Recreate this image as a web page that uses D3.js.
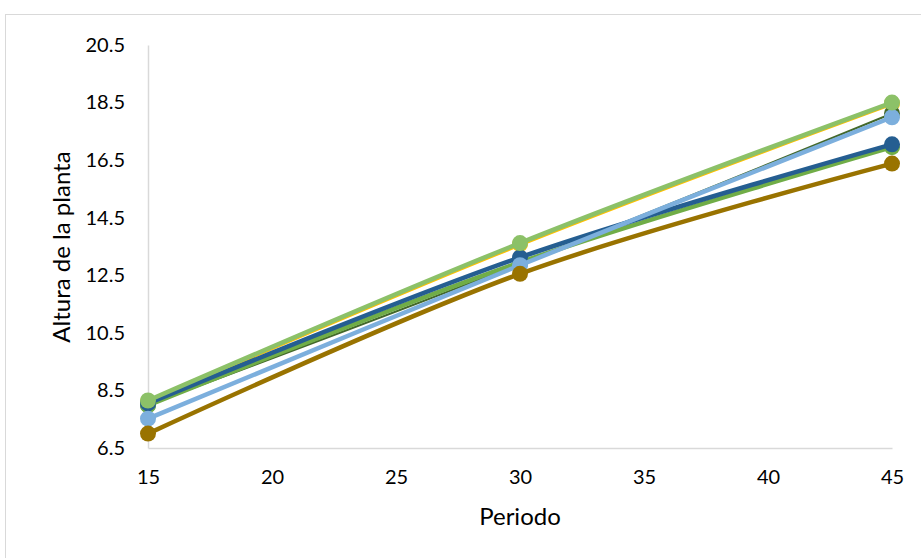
<!DOCTYPE html>
<html><head><meta charset="utf-8">
<script src="https://cdn.jsdelivr.net/npm/d3@7"></script>
<style>body{margin:0;background:#fff;}svg{display:block;font-family:Lato,"Open Sans",sans-serif;}</style>
</head><body><svg id="c" width="921" height="558"></svg>
<script>
const periods = [15, 30, 45];
const xTicks = [15, 20, 25, 30, 35, 40, 45];
const yTicks = [6.5, 8.5, 10.5, 12.5, 14.5, 16.5, 18.5, 20.5];
const seriesNames = ["S1", "S2", "S3", "S4", "S5", "S6", "S7"];
const seriesColors = ["#FFC000", "#43682B", "#70AD47", "#255E91", "#7CAFDD", "#997300", "#8CC168"];
const s1 = [8.12, 13.58, 18.47];
const s2 = [8.0, 12.9, 18.12];
const s3 = [7.98, 12.95, 16.95];
const s4 = [8.05, 13.12, 17.05];
const s5 = [7.52, 12.85, 17.99];
const s6 = [7.0, 12.55, 16.38];
const s7 = [8.15, 13.62, 18.5];
const seriesValues = [s1, s2, s3, s4, s5, s6, s7];
const seriesWidths = [4.5, 2, 4.5, 4.5, 4.5, 4.5, 4.5];

const svg = d3.select("#c");
// chart area border
svg.append("rect").attr("x", 5.5).attr("y", 14.5).attr("width", 940).attr("height", 560)
  .attr("fill", "#fff").attr("stroke", "#D9D9D9").attr("stroke-width", 1);

const x = d3.scaleLinear().domain([15, 45]).range([148, 892]);
const y = d3.scaleLinear().domain([6.5, 20.5]).range([448, 45]);

const gx = svg.append("g").attr("transform", "translate(0,448)")
  .call(d3.axisBottom(x).tickValues(xTicks).tickSize(0).tickPadding(22).tickFormat(d3.format("d")));
const gy = svg.append("g").attr("transform", "translate(148,0)")
  .call(d3.axisLeft(y).tickValues(yTicks).tickSize(0).tickPadding(23).tickFormat(d3.format(".1f")));
[gx, gy].forEach(g => {
  g.select(".domain").attr("stroke", "#D9D9D9").attr("stroke-width", 1.5);
  g.selectAll("text").attr("font-size", 20).attr("fill", "#000").attr("font-family", "Lato, sans-serif");
});

svg.append("text").attr("x", 520).attr("y", 525).attr("text-anchor", "middle")
  .attr("font-size", 24).text("Periodo");
svg.append("text").attr("transform", "translate(70,247) rotate(-90)").attr("text-anchor", "middle")
  .attr("font-size", 24).text("Altura de la planta");

const line = d3.line().x((d, i) => x(periods[i])).y(d => y(d)).curve(d3.curveCardinal.tension(0));
seriesValues.forEach((vals, k) => {
  const g = svg.append("g");
  g.append("path").datum(vals).attr("d", line).attr("fill", "none")
    .attr("stroke", seriesColors[k]).attr("stroke-width", seriesWidths[k]).attr("stroke-linecap", "round");
  g.selectAll("circle").data(vals).join("circle")
    .attr("cx", (d, i) => x(periods[i])).attr("cy", d => y(d)).attr("r", 8)
    .attr("fill", seriesColors[k]);
});
</script></body></html>
